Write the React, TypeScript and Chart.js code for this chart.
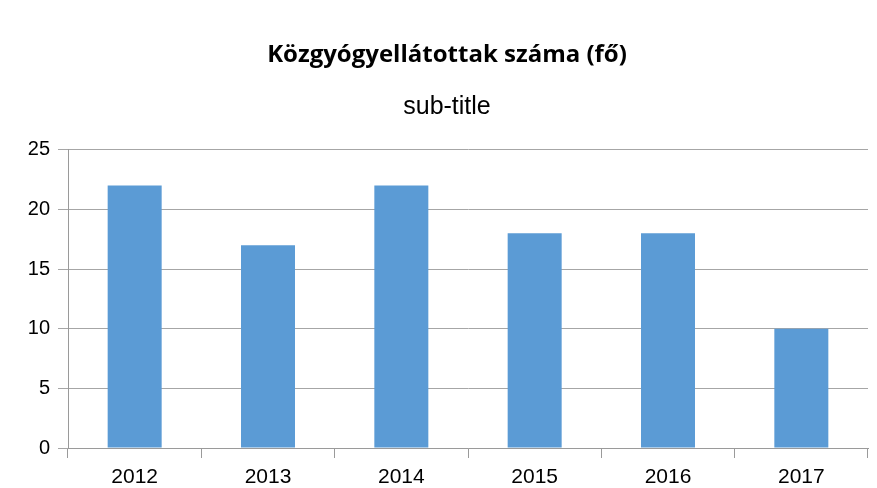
import React, { useEffect, useRef } from "react";
import { Chart, registerables } from "chart.js";

Chart.register(...registerables);

const categories = ["2012", "2013", "2014", "2015", "2016", "2017"];
const values = [22, 17, 22, 18, 18, 10];
const titleText = "Közgyógyellátottak száma (fő)";
const subtitleText = "sub-title";
const yMin = 0;
const yMax = 25;
const yStep = 5;

export default function App() {
  const ref = useRef<HTMLCanvasElement | null>(null);

  useEffect(() => {
    document.body.style.margin = "0";
    if (!ref.current) return;
    const chart = new Chart(ref.current, {
      type: "bar",
      data: {
        labels: categories,
        datasets: [
          {
            data: values,
            backgroundColor: "#5B9BD5",
            borderWidth: 0,
            categoryPercentage: 1,
            barPercentage: 0.405,
          },
        ],
      },
      options: {
        animation: false,
        responsive: false,
        maintainAspectRatio: false,
        layout: { padding: { left: 26, right: 9, top: 0, bottom: 0 } },
        plugins: {
          legend: { display: false },
          tooltip: { enabled: false },
          title: {
            display: true,
            text: titleText,
            color: "#000",
            font: { family: "'Open Sans', sans-serif", size: 24, weight: "bold", lineHeight: 1.2 },
            padding: { top: 41, bottom: 0 },
          },
          subtitle: {
            display: true,
            text: subtitleText,
            color: "#000",
            font: { family: "'Liberation Sans', Arial, sans-serif", size: 25, weight: "normal", lineHeight: 1.2 },
            padding: { top: 22, bottom: 28 },
          },
        },
        scales: {
          x: {
            offset: true,
            grid: {
              display: true,
              offset: true,
              drawOnChartArea: false,
              drawTicks: true,
              tickLength: 10,
              color: "#9a9a9a",
            },
            border: { display: true, color: "#9a9a9a", width: 1 },
            ticks: {
              color: "#000",
              padding: 7,
              font: { family: "'Liberation Sans', Arial, sans-serif", size: 21 },
            },
            afterFit: (s: any) => {
              s.height = 40;
            },
          },
          y: {
            min: yMin,
            max: yMax,
            grid: {
              display: true,
              drawOnChartArea: true,
              drawTicks: true,
              tickLength: 10,
              color: "#a6a6a6",
            },
            border: { display: true, color: "#9a9a9a", width: 1 },
            ticks: {
              stepSize: yStep,
              color: "#000",
              padding: 8,
              font: { family: "'Liberation Sans', Arial, sans-serif", size: 20 },
            },
            afterFit: (s: any) => {
              s.width = 42;
            },
          },
        },
      },
    });
    return () => chart.destroy();
  }, []);

  return (
    <div style={{ position: "absolute", left: 0, top: 0, width: 877, height: 488, background: "#fff" }}>
      <canvas ref={ref} width={877} height={488} style={{ width: 877, height: 488, display: "block" }} />
    </div>
  );
}
